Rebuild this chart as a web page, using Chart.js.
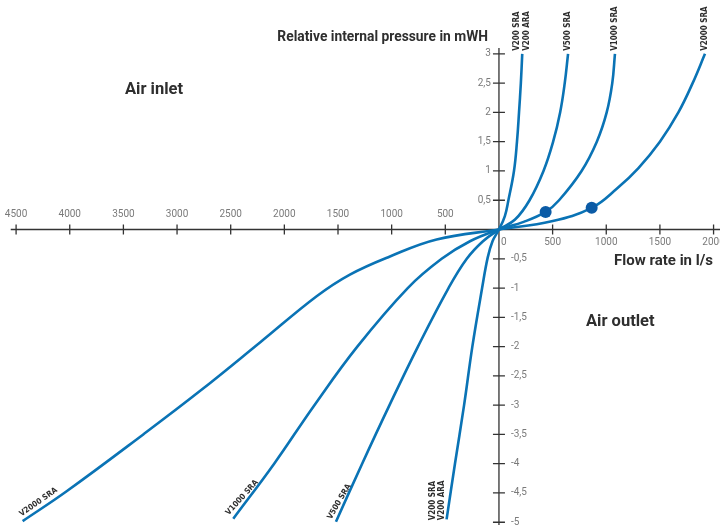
<!DOCTYPE html>
<html>
<head>
<meta charset="utf-8">
<script src="https://cdn.jsdelivr.net/npm/chart.js@4.4.0/dist/chart.umd.min.js"></script>
<style>
body { margin: 0; background: #fff; }
#wrap { width: 720px; height: 525px; }
</style>
</head>
<body>
<div id="wrap"><canvas id="chart" width="720" height="525"></canvas></div>
<script>
// flow rate in l/s (negative = air inlet) and relative pressure in mWH
const v200Flow = [-488, -410, -325, -248, -157, -105, -60, 0, 55, 88, 140, 168, 187, 204, 217];
const v200Pressure = [-4.95, -4.0, -3.0, -2.0, -1.0, -0.48, -0.2, 0, 0.23, 0.5, 1.0, 1.5, 2.0, 2.5, 3.0];

const v500Flow = [-1519, -1275, -1020, -755, -470, -300, -149, 0, 150, 285, 415, 505, 570, 613, 644];
const v500Pressure = [-4.99, -4.0, -3.0, -2.0, -1.0, -0.5, -0.2, 0, 0.17, 0.5, 1.0, 1.5, 2.0, 2.5, 3.0];

const v1000Flow = [-2476, -2095, -1720, -1320, -850, -534, -270, 0, 230, 435, 560, 770, 912, 1004, 1056, 1081];
const v1000Pressure = [-4.94, -4.0, -3.0, -2.0, -1.0, -0.5, -0.2, 0, 0.13, 0.30, 0.5, 1.0, 1.5, 2.0, 2.5, 3.0];

const v2000Flow = [-4439, -4029, -3315, -2787, -2227, -1699, -1389, -1016, -581, 0, 491, 864, 1100, 1300, 1500, 1672, 1805, 1920];
const v2000Pressure = [-4.98, -4.47, -3.5, -2.76, -1.93, -1.14, -0.77, -0.46, -0.17, 0, 0.14, 0.37, 0.7, 1.05, 1.5, 2.0, 2.5, 3.0];

const pointFlow = [435, 864];
const pointPressure = [0.30, 0.37];

const xTicksInlet = [-4500, -4000, -3500, -3000, -2500, -2000, -1500, -1000, -500];
const xTicksOutlet = [500, 1000, 1500, 2000];
const yTicksUp = [0.5, 1, 1.5, 2, 2.5, 3];
const yTicksDown = [-0.5, -1, -1.5, -2, -2.5, -3, -3.5, -4, -4.5, -5];

const blue = '#0a73b5';
const dark = '#2e2e2e';

function toPoints(xs, ys) {
    return xs.map((x, i) => ({ x: x, y: ys[i] }));
}
function fmt(v) {
    return String(v).replace('.', ',');
}

function curve(label, xs, ys) {
    return {
        label: label,
        data: toPoints(xs, ys),
        showLine: true,
        borderColor: blue,
        borderWidth: 2.6,
        pointRadius: 0,
        tension: 0.4,
        order: 1
    };
}

const crossAxes = {
    id: 'crossAxes',
    beforeDatasetsDraw(chart) {
        const ctx = chart.ctx;
        const x = chart.scales.x, y = chart.scales.y;
        const ox = x.getPixelForValue(0), oy = y.getPixelForValue(0);
        ctx.save();
        ctx.strokeStyle = '#333';
        ctx.lineWidth = 1.3;
        ctx.beginPath();
        ctx.moveTo(x.getPixelForValue(-4550), oy);
        ctx.lineTo(chart.width, oy);
        ctx.moveTo(ox, y.getPixelForValue(3.1));
        ctx.lineTo(ox, chart.height);
        xTicksInlet.concat(xTicksOutlet).forEach(v => {
            const p = x.getPixelForValue(v);
            ctx.moveTo(p, oy - 5);
            ctx.lineTo(p, oy + 5);
        });
        yTicksUp.concat(yTicksDown).forEach(v => {
            const p = y.getPixelForValue(v);
            ctx.moveTo(ox - 6, p);
            ctx.lineTo(ox + 6, p);
        });
        ctx.stroke();

        ctx.fillStyle = '#7a7a7a';
        ctx.font = '10px Roboto';
        ctx.textBaseline = 'middle';
        ctx.textAlign = 'center';
        xTicksInlet.forEach(v => ctx.fillText(String(Math.abs(v)), x.getPixelForValue(v), oy - 15));
        xTicksOutlet.forEach(v => ctx.fillText(String(v), x.getPixelForValue(v), oy + 13));
        ctx.textAlign = 'left';
        ctx.fillText('0', ox + 2, oy + 13);
        ctx.textAlign = 'right';
        yTicksUp.forEach(v => ctx.fillText(fmt(v), ox - 8, y.getPixelForValue(v)));
        ctx.textAlign = 'left';
        yTicksDown.forEach(v => ctx.fillText(fmt(v), ox + 12, y.getPixelForValue(v)));

        // titles
        ctx.fillStyle = dark;
        ctx.font = 'bold 13.8px Roboto';
        ctx.textAlign = 'right';
        ctx.fillText('Relative internal pressure in mWH', ox - 11, 38);
        ctx.font = 'bold 15px Roboto';
        ctx.fillText('Flow rate in l/s', 713, oy + 32);
        ctx.font = 'bold 16.5px Roboto';
        ctx.textAlign = 'left';
        ctx.fillText('Air inlet', 125, 90);
        ctx.fillText('Air outlet', 586, 322);
        ctx.restore();
    },
    afterDatasetsDraw(chart) {
        const ctx = chart.ctx;
        ctx.save();
        ctx.fillStyle = dark;
        ctx.font = 'bold 8px "DejaVu Sans Condensed"';
        const metas = chart.data.datasets.map((d, i) => chart.getDatasetMeta(i));
        function end(i, first) {
            const pts = metas[i].data;
            return first ? pts[0] : pts[pts.length - 1];
        }
        function text(str, px, py, angle, align, base) {
            ctx.save();
            ctx.translate(px, py);
            ctx.rotate(angle * Math.PI / 180);
            ctx.textAlign = align;
            ctx.textBaseline = base;
            ctx.fillText(str, 0, 0);
            ctx.restore();
        }
        // top ends
        let p = end(1, false);
        text('V200 SRA', p.x - 5, p.y - 3, -90, 'left', 'middle');
        text('V200 ARA', p.x + 5, p.y - 3, -90, 'left', 'middle');
        p = end(2, false);
        text('V500 SRA', p.x, p.y - 3, -90, 'left', 'middle');
        p = end(3, false);
        text('V1000 SRA', p.x, p.y - 3, -90, 'left', 'middle');
        p = end(4, false);
        text('V2000 SRA', p.x, p.y - 3, -90, 'left', 'middle');
        // bottom ends
        p = end(1, true);
        text('V200 SRA', p.x - 14, p.y + 1, -90, 'left', 'middle');
        text('V200 ARA', p.x - 5, p.y + 1, -90, 'left', 'middle');
        p = end(2, true);
        text('V500 SRA', p.x - 3, p.y - 1, -60, 'left', 'bottom');
        p = end(3, true);
        text('V1000 SRA', p.x - 3, p.y - 2, -48, 'left', 'bottom');
        p = end(4, true);
        text('V2000 SRA', p.x, p.y - 3, -35, 'left', 'bottom');
        ctx.restore();
    }
};

const ctx = document.getElementById('chart').getContext('2d');
new Chart(ctx, {
    type: 'scatter',
    data: {
        datasets: [
            {
                label: 'Operating points',
                data: toPoints(pointFlow, pointPressure),
                pointRadius: 6,
                backgroundColor: '#0b5ba6',
                borderWidth: 0,
                showLine: false,
                order: 0
            },
            curve('V200', v200Flow, v200Pressure),
            curve('V500', v500Flow, v500Pressure),
            curve('V1000', v1000Flow, v1000Pressure),
            curve('V2000', v2000Flow, v2000Pressure)
        ]
    },
    options: {
        responsive: false,
        animation: false,
        layout: { padding: 0, autoPadding: false },
        plugins: {
            legend: { display: false },
            tooltip: { enabled: false }
        },
        scales: {
            x: { type: 'linear', display: false, min: -4650, max: 2060 },
            y: { type: 'linear', display: false, min: -5.047, max: 3.92 }
        }
    },
    plugins: [crossAxes]
});
</script>
</body>
</html>
